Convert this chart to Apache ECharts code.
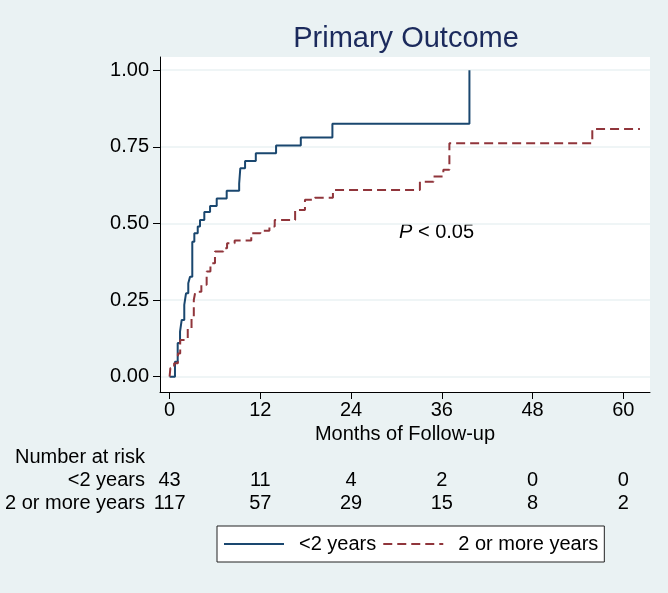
<!DOCTYPE html>
<html>
<head>
<meta charset="utf-8">
<script src="https://cdn.jsdelivr.net/npm/echarts@6/dist/echarts.min.js"></script>
<style>
  html, body { margin: 0; padding: 0; background: #eaf2f3; }
  #chart { width: 668px; height: 593px; }
</style>
</head>
<body>
<div id="chart"></div>
<script>
// failure curves (months, cumulative proportion)
const shortMonths = [0, 0.71, 1.07, 1.38, 1.6, 1.94, 2.17, 2.47, 2.7, 3.0, 3.27, 3.72, 4.02, 4.59, 5.35, 6.23, 7.55, 9.2, 9.35, 9.98, 11.4, 14.08, 17.35, 21.53, 39.65];
const shortValues = [0, 0.049, 0.11, 0.147, 0.185, 0.234, 0.272, 0.305, 0.326, 0.44, 0.468, 0.49, 0.511, 0.537, 0.557, 0.581, 0.607, 0.63, 0.68, 0.704, 0.729, 0.754, 0.78, 0.825, 1.0];

const longMonths = [0, 0.1, 0.6, 1.1, 1.4, 2.4, 2.9, 3.2, 3.4, 4.2, 4.9, 5.4, 6.0, 7.1, 7.6, 8.6, 10.8, 12.0, 13.2, 13.9, 16.6, 17.9, 19.2, 21.6, 33.1, 34.9, 36.2, 37.0, 55.9, 62.2];
const longValues = [0, 0.028, 0.044, 0.076, 0.12, 0.158, 0.196, 0.25, 0.277, 0.3, 0.343, 0.37, 0.408, 0.419, 0.435, 0.444, 0.468, 0.476, 0.49, 0.511, 0.544, 0.577, 0.584, 0.609, 0.636, 0.653, 0.675, 0.762, 0.808, 0.808];

const xTicks = [0, 12, 24, 36, 48, 60];
const yTicks = [0, 0.25, 0.5, 0.75, 1];

// number at risk at each x tick
const riskShort = [43, 11, 4, 2, 0, 0];
const riskLong = [117, 57, 29, 15, 8, 2];

const seriesNames = ["<2 years", "2 or more years"];

const FONT = "Liberation Sans, Arial, sans-serif";
const X_MIN = -1.27, X_MAX = 63.53;

const myChart = echarts.init(document.getElementById("chart"));

const pairs = (xs, ys) => xs.map((x, i) => [x, ys[i]]);

// extra x axes used only to print the risk table under the plot
const riskAxis = (offset, name, values) => ({
  type: "value",
  gridIndex: 0,
  position: "bottom",
  offset: offset,
  min: X_MIN,
  max: X_MAX,
  name: name,
  nameLocation: "start",
  nameGap: 15,
  nameTextStyle: { color: "#000", fontSize: 20, fontFamily: FONT },
  axisLine: { show: false, onZero: false },
  axisTick: { show: false },
  splitLine: { show: false },
  axisLabel: {
    show: values != null,
    customValues: xTicks,
    verticalAlign: "middle",
    margin: 0,
    color: "#000",
    fontSize: 20,
    fontFamily: FONT,
    formatter: (v) => (values ? String(values[xTicks.indexOf(v)]) : ""),
  },
});

let options = {
  backgroundColor: "#eaf2f3",
  animation: false,
  title: {
    text: "Primary Outcome",
    left: 401,
    textAlign: "center",
    top: 19,
    textStyle: { color: "#1b2a5c", fontSize: 29, fontWeight: "normal", fontFamily: FONT },
  },
  grid: {
    left: 160,
    right: 18,
    top: 57,
    bottom: 201,
    containLabel: false,
    outerBoundsMode: "none",
    show: true,
    backgroundColor: "#fff",
    borderWidth: 0,
  },
  legend: {
    data: seriesNames,
    left: 217,
    top: 526,
    orient: "horizontal",
    backgroundColor: "#fff",
    borderColor: "#222",
    borderWidth: 1,
    borderRadius: 0,
    padding: [8, 6, 8, 6],
    itemWidth: 60,
    itemHeight: 14,
    itemGap: 6,
    itemStyle: { opacity: 0 },
    textStyle: { color: "#000", fontSize: 20, fontFamily: FONT, padding: [0, 2, 0, 10] },
  },
  xAxis: [
    {
      type: "value",
      min: X_MIN,
      max: X_MAX,
      name: "Months of Follow-up",
      nameLocation: "middle",
      nameGap: 31,
      nameTextStyle: { color: "#000", fontSize: 20, fontFamily: FONT },
      axisLine: { show: true, onZero: false, lineStyle: { color: "#000", width: 1 } },
      axisTick: { show: true, customValues: xTicks, length: 7, lineStyle: { color: "#000" } },
      axisLabel: { customValues: xTicks, margin: 8, color: "#000", fontSize: 20, fontFamily: FONT },
      splitLine: { show: false },
    },
    riskAxis(65, "Number at risk", null),
    riskAxis(88, seriesNames[0], riskShort),
    riskAxis(111, seriesNames[1], riskLong),
  ],
  yAxis: {
    type: "value",
    min: -0.05,
    max: 1.043,
    axisLine: { show: true, onZero: false, lineStyle: { color: "#000", width: 1 } },
    axisTick: { show: true, customValues: yTicks, length: 7, lineStyle: { color: "#000" } },
    axisLabel: {
      customValues: yTicks,
      margin: 11,
      color: "#000",
      fontSize: 20,
      fontFamily: FONT,
      formatter: (v) => v.toFixed(2),
    },
    splitLine: { show: true, lineStyle: { color: "#eaf2f3", width: 1.5 } },
  },
  graphic: [
    {
      type: "text",
      left: 399,
      top: 222,
      style: {
        text: "{i|P} < 0.05",
        fill: "#000",
        font: "20px " + FONT,
        rich: {
          i: { fontStyle: "italic", fontSize: 20, fontFamily: FONT, fill: "#000" },
        },
      },
    },
  ],
  series: [
    {
      name: seriesNames[0],
      type: "line",
      step: "end",
      showSymbol: false,
      symbol: "none",
      color: "#1a476f",
      lineStyle: { color: "#1a476f", width: 2 },
      data: pairs(shortMonths, shortValues),
    },
    {
      name: seriesNames[1],
      type: "line",
      step: "end",
      showSymbol: false,
      symbol: "none",
      color: "#90353b",
      lineStyle: { color: "#90353b", width: 2, type: [9, 5] },
      data: pairs(longMonths, longValues),
    },
  ],
};

myChart.setOption(options);
</script>
</body>
</html>
